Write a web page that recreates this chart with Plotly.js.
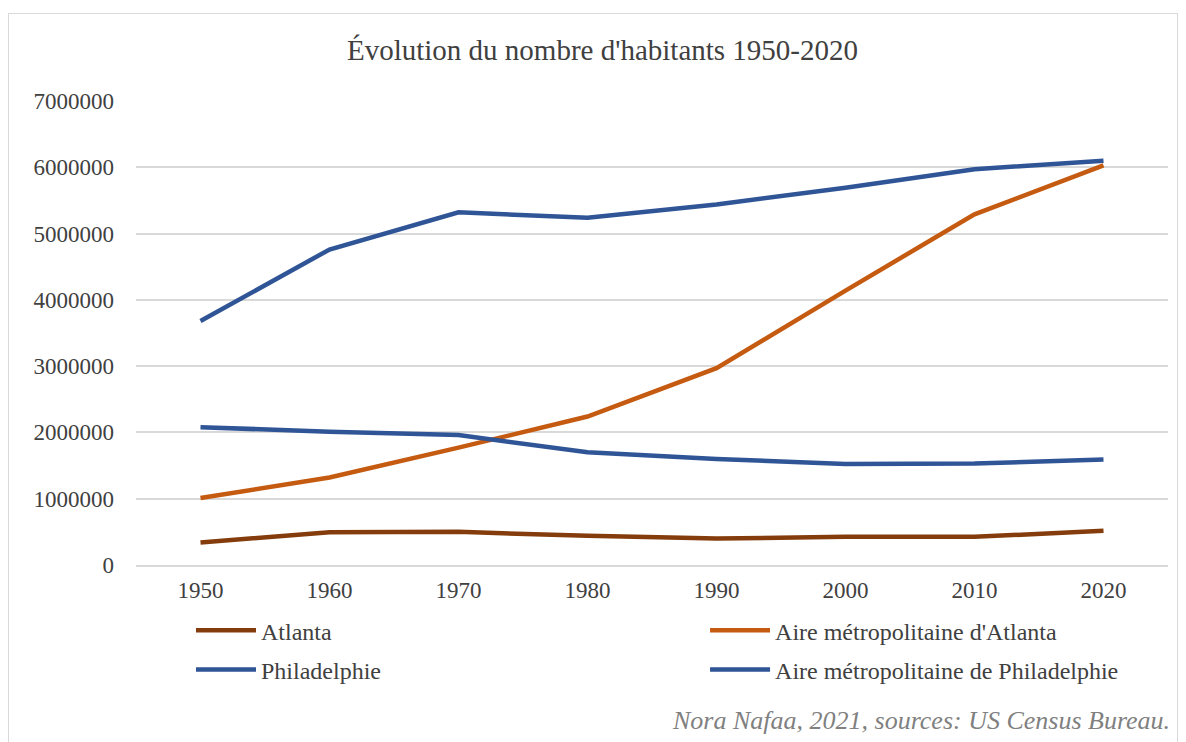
<!DOCTYPE html>
<html>
<head>
<meta charset="utf-8">
<script src="https://cdn.plot.ly/plotly-3.0.1.min.js"></script>
<style>
html,body{margin:0;padding:0;background:#fff;}
#frame{position:absolute;left:8px;top:13px;width:1170px;height:740px;border:1px solid #d9d9d9;box-sizing:border-box;}
#chart{position:absolute;left:0;top:0;width:1186px;height:742px;}
</style>
</head>
<body>
<div id="frame"></div>
<div id="chart"></div>
<script>
const years = ['1950','1960','1970','1980','1990','2000','2010','2020'];
const atlanta = [340000, 495000, 500000, 440000, 400000, 425000, 425000, 515000];
const atlantaMetro = [1010000, 1320000, 1770000, 2240000, 2970000, 4140000, 5290000, 6030000];
const philadelphie = [2080000, 2010000, 1960000, 1700000, 1600000, 1525000, 1530000, 1590000];
const philadelphieMetro = [3680000, 4760000, 5320000, 5240000, 5440000, 5690000, 5970000, 6100000];
const seriesNames = ['Atlanta', "Aire métropolitaine d'Atlanta", 'Philadelphie', 'Aire métropolitaine de Philadelphie'];
const titleText = "Évolution du nombre d'habitants 1950-2020";
const sourceText = 'Nora Nafaa, 2021, sources: US Census Bureau.';

const colors = ['#843C0C', '#C55A11', '#2F5597', '#2F5597'];
const legendIds = ['legend', 'legend2', 'legend', 'legend2'];
const values = [atlanta, atlantaMetro, philadelphie, philadelphieMetro];
const font = 'Liberation Serif, Times New Roman, serif';

const data = values.map((v, i) => ({
  type: 'scatter', mode: 'lines', x: years, y: v, name: seriesNames[i],
  line: {color: colors[i], width: 4.5, shape: 'linear'},
  legend: legendIds[i], legendgroup: 'g' + i,
  hoverinfo: 'x+y+name'
}));

const legendCommon = {orientation: 'v', xanchor: 'left', y: -0.093, yanchor: 'top',
  font: {family: font, size: 24, color: '#404040'}, traceorder: 'grouped', tracegroupgap: 5,
  bgcolor: 'rgba(0,0,0,0)', borderwidth: 0, itemwidth: 60};

const layout = {
  width: 1186, height: 742,
  paper_bgcolor: 'rgba(0,0,0,0)', plot_bgcolor: 'rgba(0,0,0,0)',
  margin: {l: 136, r: 18, t: 101, b: 177, autoexpand: false},
  font: {family: font, color: '#404040', size: 23},
  title: {text: titleText, font: {family: font, size: 29, color: '#404040'},
          xref: 'container', x: 0.508, xanchor: 'center', yref: 'container', y: 0.933, yanchor: 'middle'},
  xaxis: {type: 'category', range: [-0.5, 7.5], showgrid: false, showline: true, linecolor: '#d9d9d9', linewidth: 1.5,
          ticks: '', ticklabelstandoff: 4, tickfont: {family: font, size: 23, color: '#404040'}, fixedrange: true},
  yaxis: {range: [0, 7000000], dtick: 1000000, tick0: 0, tickformat: 'd', showgrid: true, gridcolor: '#d9d9d9', gridwidth: 1.5,
          zeroline: false, ticks: '', ticklabelstandoff: 21, tickfont: {family: font, size: 23, color: '#404040'}, fixedrange: true},
  showlegend: true,
  legend: Object.assign({x: 0.0533}, legendCommon),
  legend2: Object.assign({x: 0.5514}, legendCommon),
  annotations: [{text: '<i>' + sourceText + '</i>', xref: 'paper', yref: 'paper', x: 1.004, y: -0.336, xanchor: 'right', yanchor: 'middle',
                 showarrow: false, font: {family: font, size: 26, color: '#808080'}}]
};

Plotly.newPlot('chart', data, layout, {displayModeBar: false});
</script>
</body>
</html>
